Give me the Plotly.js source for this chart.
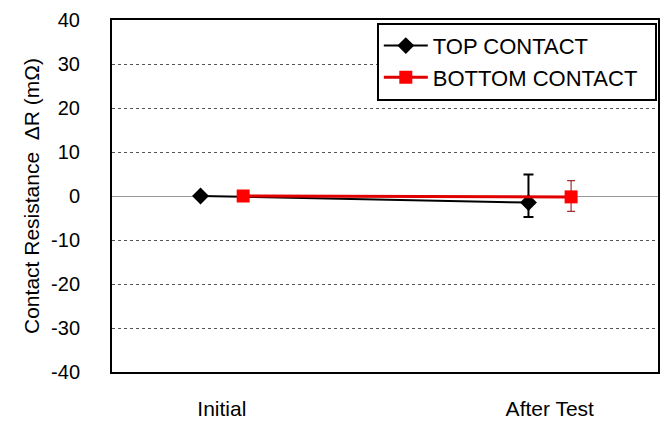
<!DOCTYPE html>
<html><head><meta charset="utf-8">
<script src="https://cdn.plot.ly/plotly-3.0.1.min.js"></script>
<style>html,body{margin:0;padding:0;background:#fff}#chart{width:668px;height:421px}</style>
</head><body><div id="chart"></div>
<script>
const categories = ["Initial", "After Test"];
const topValues = [0, -1.5];
const topErrPlus = [0, 6.4];
const topErrMinus = [0, 3.3];
const bottomValues = [0, -0.2];
const bottomErrPlus = [0, 3.7];
const bottomErrMinus = [0, 3.3];
const seriesNames = ["TOP CONTACT", "BOTTOM CONTACT"];
const yTickVals = [-40, -30, -20, -10, 0, 10, 20, 30, 40];
const yTickLabels = ["-40", "-30", "-20", "-10", "0", "10", "20", "30", "40"];
const offset = 0.065;

const catIdx = categories.map((c, i) => i);
const pad = '\u00a0\u00a0';
const traces = [
  {
    x: catIdx.map(i => i - offset), y: topValues, name: seriesNames[0] + pad,
    type: 'scatter', mode: 'lines+markers',
    line: {color: '#000', width: 2},
    marker: {symbol: 'diamond', size: 13, color: '#000'},
    error_y: {type: 'data', symmetric: false, array: topErrPlus, arrayminus: topErrMinus,
      color: '#000', thickness: 2, width: 5}
  },
  {
    x: catIdx.map(i => i + offset), y: bottomValues, name: seriesNames[1] + pad,
    type: 'scatter', mode: 'lines+markers',
    line: {color: '#e00000', width: 3},
    marker: {symbol: 'square', size: 13, color: '#ff0000'},
    error_y: {type: 'data', symmetric: false, array: bottomErrPlus, arrayminus: bottomErrMinus,
      color: '#a03030', thickness: 1.2, width: 4}
  }
];

const layout = {
  width: 668, height: 421,
  margin: {l: 112, r: 10, t: 20, b: 49},
  paper_bgcolor: '#fff', plot_bgcolor: '#fff',
  font: {family: 'Liberation Sans, Arial, sans-serif', size: 20, color: '#000'},
  showlegend: true,
  legend: {
    x: 0.485, y: 0.992, xanchor: 'left', yanchor: 'top',
    bordercolor: '#000', borderwidth: 2, bgcolor: '#fff',
    font: {size: 22, color: '#000'}, tracegroupgap: 0,
    itemwidth: 44
  },
  xaxis: {
    range: [-0.335, 1.33],
    tickmode: 'array', tickvals: catIdx, ticktext: categories,
    showgrid: false, zeroline: false,
    showline: true, linecolor: '#000', linewidth: 2, mirror: true,
    ticks: '', ticklabelstandoff: 17,
    tickfont: {size: 21}
  },
  yaxis: {
    range: [-40, 40],
    tickmode: 'array', tickvals: yTickVals, ticktext: yTickLabels,
    showgrid: true, gridcolor: '#555', griddash: 'dot', gridwidth: 1,
    zeroline: true, zerolinecolor: '#999', zerolinewidth: 1,
    showline: true, linecolor: '#000', linewidth: 2, mirror: true,
    ticks: '', ticklabelstandoff: 26,
    tickfont: {size: 20},
    title: {text: 'Contact Resistance  ΔR (mΩ)', font: {size: 21}, standoff: 6}
  }
};
Plotly.newPlot('chart', traces, layout, {displayModeBar: false, staticPlot: true});
</script></body></html>
